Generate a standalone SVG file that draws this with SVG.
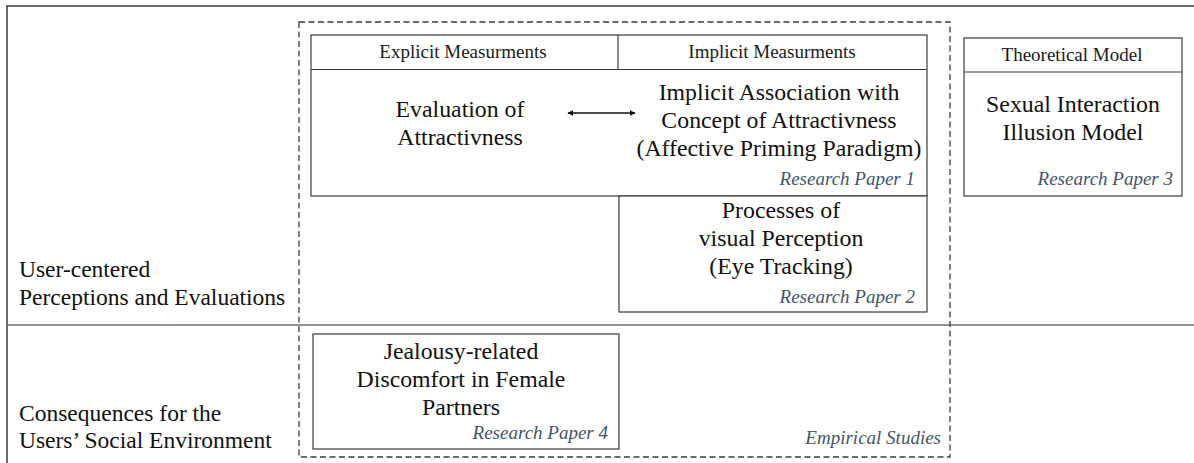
<svg xmlns="http://www.w3.org/2000/svg" width="1194" height="463" viewBox="0 0 1194 463">
  <style>
    .frame { stroke: #3a3a3a; stroke-width: 1.5; fill: none; }
    .divider { stroke: #6f6f6f; stroke-width: 1.5; fill: none; }
    .region { stroke: #3c3c3c; stroke-width: 1.3; stroke-dasharray: 6 3.5; fill: none; }
    .box { stroke: #3a3a3a; stroke-width: 1.2; fill: #ffffff; }
    .rule { stroke: #3a3a3a; stroke-width: 1.2; fill: none; }
    text { font-family: 'Liberation Serif', 'Tinos', 'DejaVu Serif', serif; }
    .head { font-size: 19px; fill: #1a1a1a; text-anchor: middle; }
    .main { font-size: 23.8px; fill: #111111; text-anchor: middle; }
    .side { font-size: 23.5px; fill: #111111; }
    .ref { font-size: 19px; font-style: italic; fill: #44546a; text-anchor: end; }
    .link { stroke: #111111; stroke-width: 1.3; fill: none; }
  </style>
  <defs>
    <marker id="tip" viewBox="0 0 10 10" refX="9" refY="5" markerWidth="6" markerHeight="6" orient="auto-start-reverse" markerUnits="userSpaceOnUse">
      <path d="M0,0 L10,5 L0,10 z" fill="#111111"/>
    </marker>
  </defs>

  <rect width="1194" height="463" fill="#ffffff"/>

  <!-- outer table frame and row divider -->
  <g id="frame">
    <polyline class="frame" points="7,463 7,6 1194,6"/>
    <line class="divider" x1="7" y1="325" x2="1194" y2="325"/>
  </g>

  <!-- row labels -->
  <g id="row-user">
    <text class="side" x="19" y="277">User-centered</text>
    <text class="side" x="19" y="305">Perceptions and Evaluations</text>
  </g>
  <g id="row-social">
    <text class="side" x="19" y="421">Consequences for the</text>
    <text class="side" x="19" y="448">Users’ Social Environment</text>
  </g>

  <!-- empirical studies region -->
  <g id="empirical-studies">
    <rect class="region" x="299" y="22" width="651" height="435"/>
    <text class="ref" x="941" y="444">Empirical Studies</text>
  </g>

  <!-- research paper 1: explicit / implicit measurements -->
  <g id="paper1">
    <rect class="box" x="311" y="35" width="616" height="161"/>
    <line class="rule" x1="311" y1="69.5" x2="927" y2="69.5"/>
    <line class="rule" x1="618" y1="35" x2="618" y2="69.5"/>
    <text class="head" x="463" y="58">Explicit Measurments</text>
    <text class="head" x="772" y="58">Implicit Measurments</text>
    <text class="main" x="460" y="117">Evaluation of</text>
    <text class="main" x="460" y="145">Attractivness</text>
    <text class="main" x="779" y="100">Implicit Association with</text>
    <text class="main" x="779" y="128">Concept of Attractivness</text>
    <text class="main" x="779" y="156">(Affective Priming Paradigm)</text>
    <text class="ref" x="915" y="185">Research Paper 1</text>
  </g>

  <!-- research paper 2: eye tracking -->
  <g id="paper2">
    <rect class="box" x="619" y="196" width="308" height="116"/>
    <text class="main" x="781" y="218">Processes of</text>
    <text class="main" x="781" y="246">visual Perception</text>
    <text class="main" x="781" y="274">(Eye Tracking)</text>
    <text class="ref" x="915" y="303">Research Paper 2</text>
  </g>

  <!-- research paper 3: theoretical model -->
  <g id="paper3">
    <rect class="box" x="964" y="38" width="218" height="158"/>
    <line class="rule" x1="964" y1="72" x2="1182" y2="72" stroke-width="1.8"/>
    <text class="head" x="1072" y="61">Theoretical Model</text>
    <text class="main" x="1073" y="112">Sexual Interaction</text>
    <text class="main" x="1073" y="140">Illusion Model</text>
    <text class="ref" x="1173" y="185">Research Paper 3</text>
  </g>

  <!-- research paper 4: partner discomfort -->
  <g id="paper4">
    <rect class="box" x="313" y="334" width="306" height="115"/>
    <text class="main" x="461" y="359">Jealousy-related</text>
    <text class="main" x="461" y="387">Discomfort in Female</text>
    <text class="main" x="461" y="415">Partners</text>
    <text class="ref" x="608" y="439">Research Paper 4</text>
  </g>

  <!-- connectors -->
  <g id="connectors">
    <line class="link" x1="568" y1="113" x2="635" y2="113" marker-start="url(#tip)" marker-end="url(#tip)"/>
  </g>
</svg>
